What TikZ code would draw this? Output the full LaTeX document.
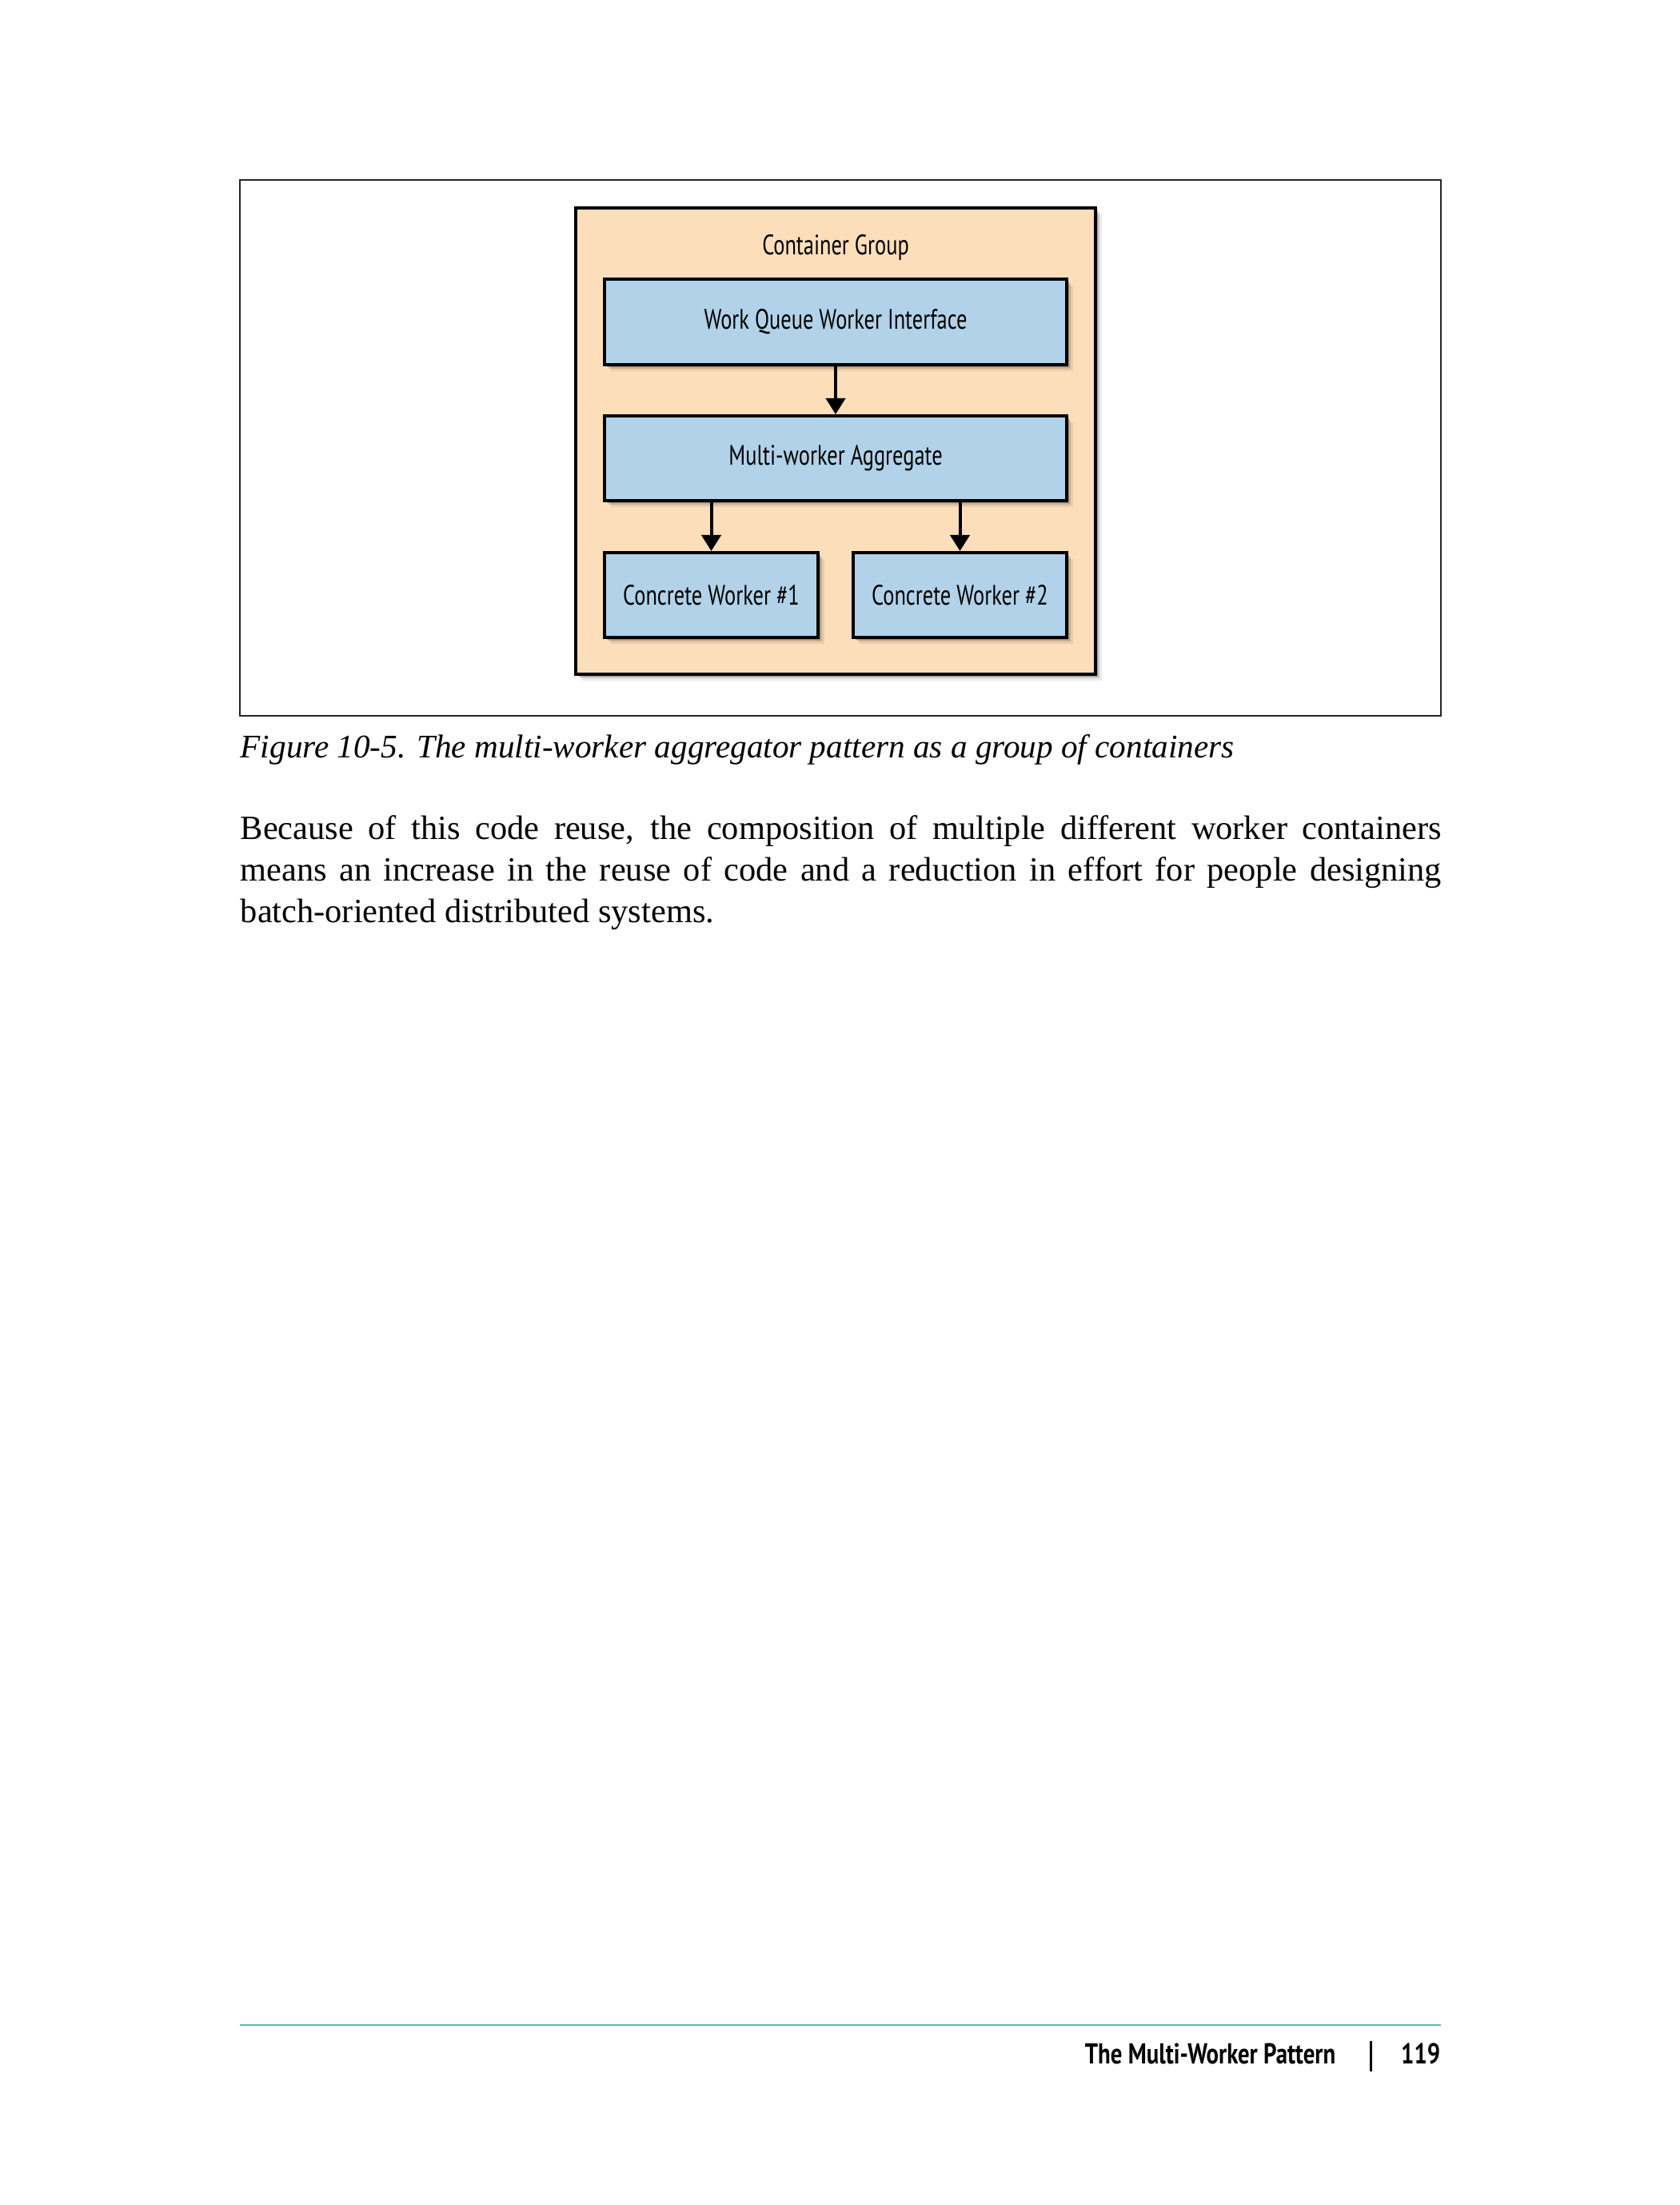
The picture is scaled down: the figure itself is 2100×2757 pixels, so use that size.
\documentclass[tikz,border=0pt]{standalone}
\usepackage{fontspec}
\setmainfont{Liberation Serif}
\newfontfamily\diagfont[FakeStretch=0.75]{PT Sans}
\newfontfamily\footfont[FakeStretch=0.8]{PT Sans}
\usetikzlibrary{arrows.meta,shadows}
\definecolor{peach}{RGB}{252,222,186}
\definecolor{boxblue}{RGB}{178,210,233}
\definecolor{teal}{RGB}{95,185,170}
\tikzset{
  softshadow/.style={
    drop shadow={shadow xshift=0.7pt,shadow yshift=-0.7pt,opacity=0.22,fill=black},
    drop shadow={shadow xshift=1.3pt,shadow yshift=-1.3pt,opacity=0.14,fill=black},
    drop shadow={shadow xshift=2.0pt,shadow yshift=-2.0pt,opacity=0.08,fill=black}},
  groupbox/.style={draw=black,line width=1pt,fill=peach,inner sep=0pt,softshadow},
  diaglabel/.style={font=\diagfont\fontsize{8.8}{10}\selectfont},
  bluebox/.style={draw=black,line width=1pt,fill=boxblue,inner sep=0pt,softshadow,diaglabel},
  flow/.style={-{Triangle[width=6pt,length=5pt]},line width=1pt},
  bodytext/.style={anchor=base west,inner sep=0pt,font=\fontsize{10.6}{13}\selectfont}
}
\begin{document}
\begin{tikzpicture}[x=0.25pt,y=-0.25pt]
\useasboundingbox[fill=white] (0,0) rectangle (2100,2757);
% figure frame
\draw[line width=0.4pt,black!85] (300,225) rectangle (1802,895);
% container group
\node[groupbox,minimum width=162.5pt,minimum height=145.75pt] (group) at (1045,551.5) {};
\node[diaglabel,inner sep=0pt] (grouplabel) at (1045,310) {Container Group};
\node[bluebox,minimum width=144.5pt,minimum height=26.75pt] (wq) at (1045,402.5) {Work Queue Worker Interface};
\node[bluebox,minimum width=144.5pt,minimum height=26.5pt] (agg) at (1045,573) {Multi-worker Aggregate};
\node[bluebox,minimum width=66.75pt,minimum height=26.5pt] (c1) at (889.5,744) {Concrete Worker \#1};
\node[bluebox,minimum width=66.75pt,minimum height=26.5pt] (c2) at (1200.5,744) {Concrete Worker \#2};
\draw[flow] (wq.south) -- (agg.north);
\draw[flow] (agg.south -| c1.north) -- (c1.north);
\draw[flow] (agg.south -| c2.north) -- (c2.north);
% caption
\node[anchor=base west,inner sep=0pt,font=\itshape\fontsize{10.3}{13}\selectfont] (caption) at (300,947)
  {Figure 10-5. The multi-worker aggregator pattern as a group of containers};
% body text
\node[bodytext] (line1) at (300,1049) {\makebox[375.5pt][s]{Because of this code reuse, the composition of multiple different worker containers}};
\node[bodytext] (line2) at (300,1101) {\makebox[375.5pt][s]{means an increase in the reuse of code and a reduction in effort for people designing}};
\node[bodytext] (line3) at (300,1153) {batch-oriented distributed systems.};
% footer
\draw[teal,line width=0.45pt] (300,2532) -- (1802,2532);
\node[anchor=base east,inner sep=0pt,font=\footfont\bfseries\fontsize{9}{11}\selectfont] (foottitle) at (1671,2580) {The Multi-Worker Pattern};
\node[anchor=base east,inner sep=0pt,font=\footfont\bfseries\fontsize{9}{11}\selectfont] (pagenum) at (1802,2580) {119};
\coordinate (bartop) at (1714,2552);
\coordinate (barbot) at (1714,2590);
\draw[line width=0.75pt] (bartop) -- (barbot);
\end{tikzpicture}
\end{document}
